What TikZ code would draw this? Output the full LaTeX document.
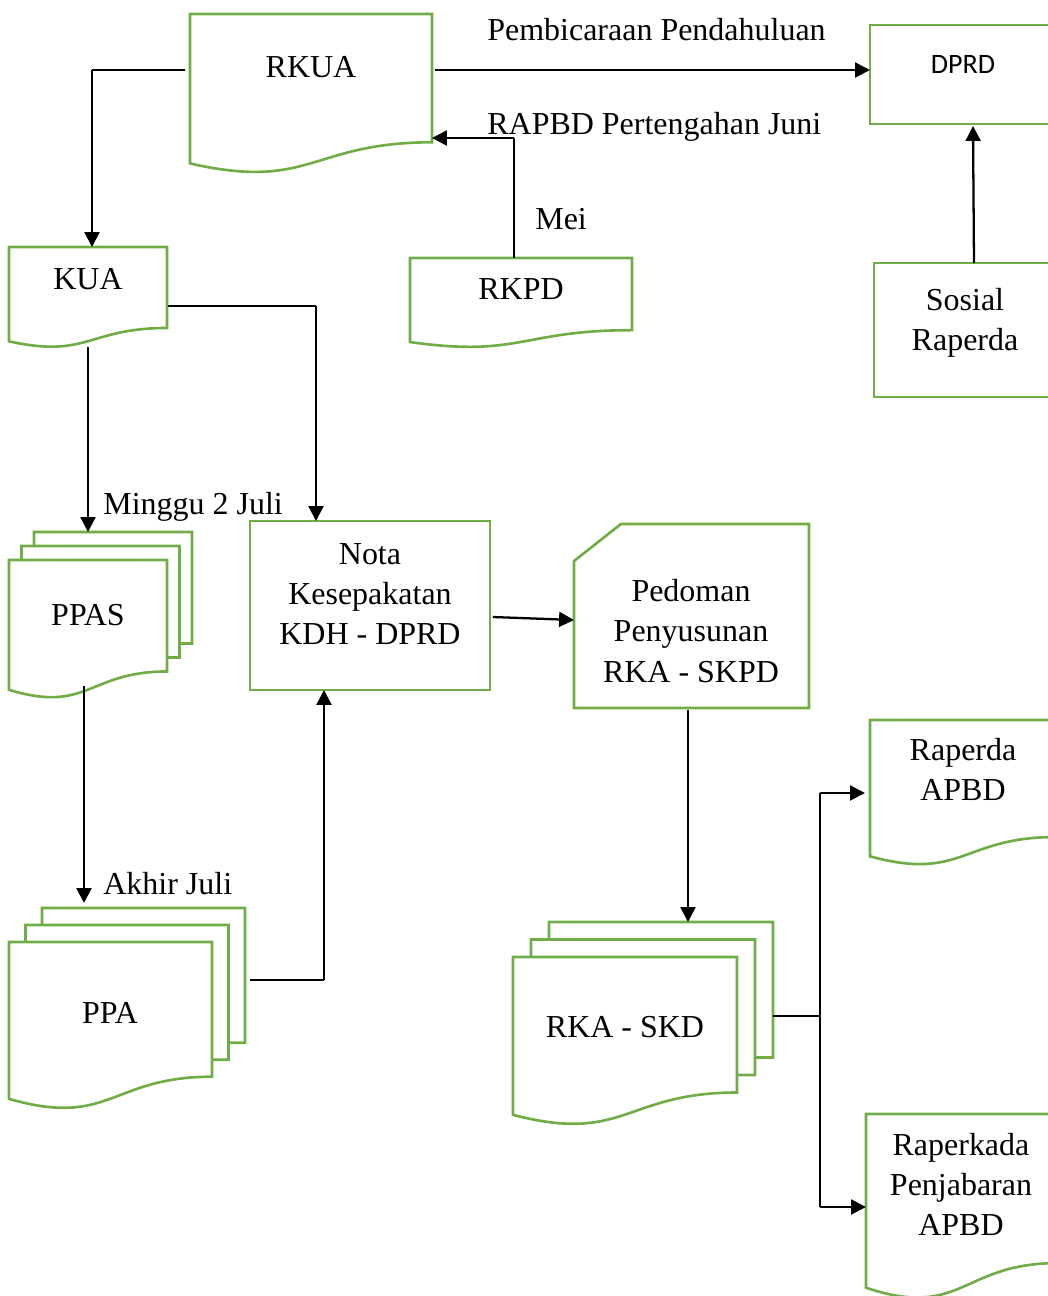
\documentclass[tikz,border=0pt]{standalone}
\usepackage{fontspec}
\setmainfont{Liberation Serif}
\newfontfamily\calib{Carlito}
\usetikzlibrary{arrows.meta,calc}
\definecolor{gr}{HTML}{70AD47}
\tikzset{
  box/.style={draw=none, rectangle, inner sep=0pt, outer sep=0pt, anchor=north west},
  gline/.style={draw=gr, line width=1.5pt, line join=miter},
  txt/.style={font=\fontsize{18.2}{22.8}\selectfont, align=center, inner sep=0pt},
  lbl/.style={font=\fontsize{18.2}{22.8}\selectfont, inner sep=0pt, anchor=base west},
  ln/.style={draw=black, line width=0.8pt},
  arr/.style={draw=black, line width=1.3pt, -{Triangle[length=8.5pt,width=8.5pt]}},
}
\newcommand\docpath[1]{%
  \draw[gline] let \p1=(#1.north west), \p2=(#1.south east) in
  (\x1,\y1) -- (\x2,\y1) -- (\x2,{\y1+0.802*(\y2-\y1)})
  .. controls ({0.5*(\x1+\x2)},{\y1+0.802*(\y2-\y1)}) and ({0.5*(\x1+\x2)},{\y1+1.107*(\y2-\y1)})
  .. (\x1,{\y1+0.934*(\y2-\y1)}) -- cycle;}
\newcommand\multisheets[3]{%
  \coordinate (#1-rb) at ($(#1.north east)!0.802!(#1.south east)$);
  \draw[gline] ($(#1.north west)+(#2,0)$) -- ($(#1.north west)+(#2,-#3)$) -- ($(#1.north east)+(#2,-#3)$) -- ($(#1-rb)+(#2,-#3)$) -- ($(#1-rb)+(0,-#3)$);
  \draw[gline] ($(#1.north west)+(2*#2,-#3)$) -- ($(#1.north west)+(2*#2,-2*#3)$) -- ($(#1.north east)+(2*#2,-2*#3)$) -- ($(#1-rb)+(2*#2,-2*#3)$) -- ($(#1-rb)+(#2,-2*#3)$);}
\begin{document}
\begin{tikzpicture}[x=0.02cm,y=-0.02cm]
\useasboundingbox (0,0) rectangle (1048,1296);
\clip (0,0) rectangle (1048,1296);
% shape nodes
\node[box, minimum width=4.84cm, minimum height=3.2cm] (rkua) at (190,14) {};
\node[box, minimum width=3.72cm, minimum height=1.98cm] (dprd) at (870,25) {};
\node[box, minimum width=3.16cm, minimum height=2.02cm] (kua) at (9,247) {};
\node[box, minimum width=4.44cm, minimum height=1.8cm] (rkpd) at (410,258) {};
\node[box, minimum width=3.64cm, minimum height=2.68cm] (sosial) at (874,263) {};
\node[box, minimum width=3.16cm, minimum height=2.78cm] (ppas) at (9,560) {};
\node[box, minimum width=4.8cm, minimum height=3.38cm] (nota) at (250,521) {};
\node[box, minimum width=4.7cm, minimum height=3.68cm] (pedoman) at (574,524) {};
\node[box, minimum width=4.48cm, minimum height=3.38cm] (rka) at (513,957) {};
\node[box, minimum width=4.06cm, minimum height=3.36cm] (ppa) at (9,942) {};
\node[box, minimum width=3.7cm, minimum height=2.92cm] (raperda) at (870,720) {};
\node[box, minimum width=3.82cm, minimum height=3.72cm] (raperkada) at (866,1114) {};
% outlines
\docpath{rkua}
\draw[gline] (dprd.north west) rectangle (dprd.south east);
\docpath{kua}
\docpath{rkpd}
\draw[gline] (sosial.north west) rectangle (sosial.south east);
\multisheets{ppas}{12.5}{14}
\docpath{ppas}
\draw[gline] (nota.north west) rectangle (nota.south east);
\draw[gline] ($(pedoman.north west)+(47,0)$) -- (pedoman.north east) -- (pedoman.south east) -- (pedoman.south west) -- ($(pedoman.north west)+(0,37)$) -- cycle;
\multisheets{rka}{18}{17.5}
\docpath{rka}
\multisheets{ppa}{16.5}{17}
\docpath{ppa}
\docpath{raperda}
\docpath{raperkada}
% texts
\node[txt] (rkua-t) at (311,67) {RKUA};
\node[inner sep=0pt, font=\calib\fontsize{16}{19}\selectfont] (dprd-t) at (963,64) {DPRD};
\node[txt] (kua-t) at (88,279) {KUA};
\node[txt] (rkpd-t) at (521,289) {RKPD};
\node[txt, anchor=north] (sosial-t) at (965,288) {Sosial\\Raperda};
\node[txt] (ppas-t) at (88,615) {PPAS};
\node[txt] (nota-t) at (370,594) {Nota\\Kesepakatan\\KDH - DPRD};
\node[txt] (pedoman-t) at (691,631) {Pedoman\\Penyusunan\\RKA - SKPD};
\node[txt] (rka-t) at (625,1027) {RKA - SKD};
\node[txt] (ppa-t) at (110,1013) {PPA};
\node[txt, anchor=north] (raperda-t) at (963,738) {Raperda\\APBD};
\node[txt, anchor=north] (raperkada-t) at (961,1133) {Raperkada\\Penjabaran\\APBD};
% labels
\node[lbl] (l-pemb) at (487,40) {Pembicaraan Pendahuluan};
\node[lbl] (l-rapbd) at (487,134) {RAPBD Pertengahan Juni};
\node[lbl] (l-mei) at (535,229) {Mei};
\node[lbl] (l-minggu) at (103,514) {Minggu 2 Juli};
\node[lbl] (l-akhir) at (103,894) {Akhir Juli};
% connectors
\coordinate (k1) at ($(kua.north west)+(83,0)$);
\draw[ln] ($(rkua.north west)+(-5,56)$) coordinate (a1) -- (a1 -| k1);
\draw[arr] (a1 -| k1) -- (k1);
\draw[arr] ($(rkua.north east)+(3,56)$) coordinate (a2) -- (a2 -| dprd.west);
\draw[ln] ($(rkpd.north west)+(104,0)$) coordinate (a3) -- ($(a3)+(0,-120)$) coordinate (a3b);
\draw[arr] (a3b) -- (a3b -| rkua.east);
\draw[arr] ($(sosial.north west)+(100,0)$) -- ($(dprd.south west)+(103,2)$);
\draw[arr] ($(kua.north west)+(79,100)$) -- ($(ppas.north west)+(79,-28)$);
\coordinate (c6) at ($(nota.north west)+(66,0)$);
\draw[ln] ($(kua.north east)+(1,59)$) coordinate (a6) -- (a6 -| c6);
\draw[arr] (a6 -| c6) -- (c6);
\draw[arr] ($(ppas.north west)+(75,126)$) -- ($(ppa.north west)+(75,-39)$);
\coordinate (c8) at ($(nota.south west)+(74,0)$);
\draw[ln] ($(ppa.north east)+(38,38)$) coordinate (a8) -- (a8 -| c8);
\draw[arr] (a8 -| c8) -- (c8);
\draw[arr] ($(nota.north east)+(3,96)$) -- ($(pedoman.north west)+(0,96)$);
\draw[arr] ($(pedoman.south west)+(114,2)$) -- ($(rka.north west)+(175,-35)$);
\draw[ln] ($(rka.north east)+(36,59)$) coordinate (a11) -- ++(47,0) coordinate (j);
\draw[ln] (j |- raperda.west) -- (j |- raperkada.west);
\draw[arr] (j |- raperda.west) -- ($(raperda.west)+(-5,0)$);
\draw[arr] (j |- raperkada.west) -- (raperkada.west);
\end{tikzpicture}
\end{document}
